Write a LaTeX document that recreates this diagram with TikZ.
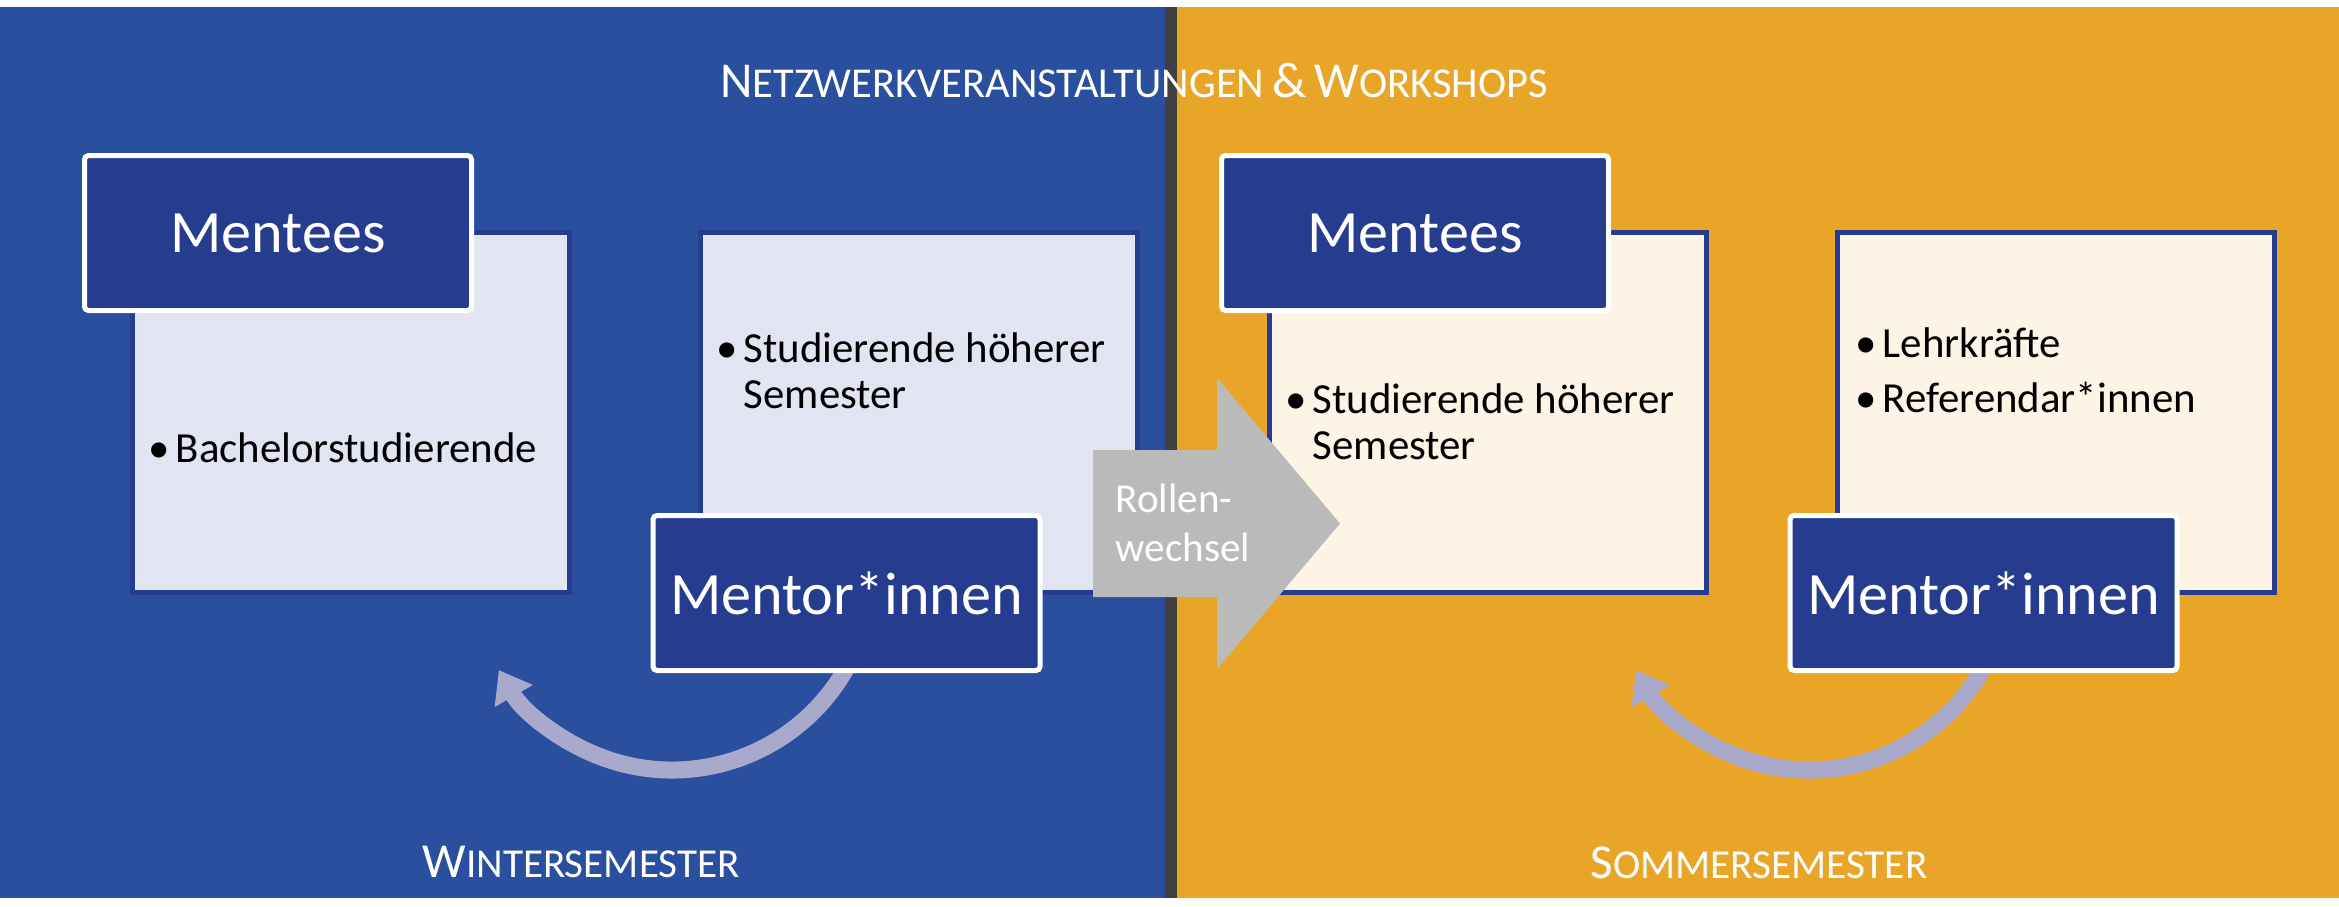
\documentclass[tikz,border=0pt]{standalone}
\usepackage{fontspec}
\setmainfont{Carlito}
\usetikzlibrary{calc, arrows.meta}

% small caps as the slide sets them: big first letter, smaller capitals after it
\newcommand{\titlecaps}[2]{{\fontsize{14.3}{14.3}\selectfont #1}{\fontsize{12.1}{12.1}\selectfont #2}}
\newcommand{\semcaps}[2]{{\fontsize{13.9}{13.9}\selectfont #1}{\fontsize{11.7}{11.7}\selectfont #2}}
\newcommand{\entry}{\llap{\textbullet\hspace{1.6pt}}}

\begin{document}
\begin{tikzpicture}[
    headbox/.style={draw=white, line width=0.05cm, fill=headBlue, rounded corners=0.04cm,
        minimum width=3.87cm, minimum height=1.55cm, inner sep=0pt, text=white,
        font=\fontsize{17.1}{20}\selectfont},
    infobox/.style={draw=headBlue, line width=0.05cm, minimum width=4.37cm, minimum height=3.60cm},
    listtext/.style={anchor=base west, inner sep=0pt, text=black, font=\fontsize{12.2}{13.1}\selectfont},
    swaptext/.style={anchor=base west, inner sep=0pt, text=white, font=\fontsize{11.7}{14.2}\selectfont},
    semlabel/.style={anchor=base west, inner sep=0pt, text=white},
    cyclearrow/.style={draw=loopLilac, line width=0.17cm, -{Triangle[length=0.30cm, width=0.42cm]}}
]
    % Define colours
    \definecolor{winterBlue}{HTML}{2A4F9E}
    \definecolor{summerOrange}{HTML}{E9A528}
    \definecolor{dividerGrey}{HTML}{404040}
    \definecolor{headBlue}{HTML}{253C8F}
    \definecolor{winterFill}{HTML}{E2E4F2}
    \definecolor{summerFill}{HTML}{FDF4E6}
    \definecolor{swapGrey}{HTML}{BBBABB}
    \definecolor{loopLilac}{HTML}{A9AACB}

    % Draw background of both semesters
    \useasboundingbox (0,0) rectangle (23.39,-9.06);
    \fill[white] (0,0) rectangle (23.39,-9.06);
    \fill[winterBlue] (0,-0.07) rectangle (11.65,-8.98);
    \fill[summerOrange] (11.77,-0.07) rectangle (23.39,-8.98);
    \fill[dividerGrey] (11.65,-0.07) rectangle (11.77,-8.98);

    % Draw the boxes with the groups
    \node[infobox, fill=winterFill] (groupW1) at (3.51,-4.125) {};
    \node[infobox, fill=winterFill] (groupW2) at (9.19,-4.125) {};
    \node[infobox, fill=summerFill] (groupS1) at (14.88,-4.125) {};
    \node[infobox, fill=summerFill] (groupS2) at (20.56,-4.125) {};

    % Draw the arrow between the semesters
    \fill[swapGrey] (10.93,-4.50) -- (12.17,-4.50) -- (12.17,-3.78) -- (13.40,-5.235)
        -- (12.17,-6.69) -- (12.17,-5.97) -- (10.93,-5.97) -- cycle;
    \node[swaptext] (swapLabel) at (11.15,-5.12)
        {\begin{tabular}[t]{@{}l@{}}Rollen-\\wechsel\end{tabular}};

    % Draw the curved arrows under the mentor boxes
    \coordinate (cycleW) at (6.72,-5.70);
    \coordinate (cycleS) at (18.09,-5.70);
    \draw[cyclearrow] ($(cycleW)+(-20:2)$) arc[start angle=-20, end angle=-150, radius=2];
    \draw[cyclearrow] ($(cycleS)+(-20:2)$) arc[start angle=-20, end angle=-150, radius=2];

    % Draw the role boxes
    \node[headbox] (menteesW) at (2.78,-2.33) {Mentees};
    \node[headbox] (mentorsW) at (8.465,-5.93) {Mentor*innen};
    \node[headbox] (menteesS) at (14.15,-2.33) {Mentees};
    \node[headbox] (mentorsS) at (19.835,-5.93) {Mentor*innen};

    % Label the groups
    \node[listtext] (listW1) at (1.75,-4.62)
        {\begin{tabular}[t]{@{}l@{}}\entry Bachelorstudierende\end{tabular}};
    \node[listtext] (listW2) at (7.43,-3.62)
        {\begin{tabular}[t]{@{}l@{}}\entry Studierende höherer\\Semester\end{tabular}};
    \node[listtext] (listS1) at (13.12,-4.13)
        {\begin{tabular}[t]{@{}l@{}}\entry Studierende höherer\\Semester\end{tabular}};
    \node[listtext] (listS2) at (18.82,-3.57)
        {\begin{tabular}[t]{@{}l@{}}\entry Lehrkräfte\\[2.8pt]\entry Referendar*innen\end{tabular}};

    % Label the semesters
    \node[semlabel, anchor=base] (eventsLabel) at (11.34,-0.97)
        {\titlecaps{N}{ETZWERKVERANSTALTUNGEN} \titlecaps{\&}{} \titlecaps{W}{ORKSHOPS}};
    \node[semlabel] (winterLabel) at (4.22,-8.77) {\semcaps{W}{INTERSEMESTER}};
    \node[semlabel] (summerLabel) at (15.90,-8.78) {\semcaps{S}{OMMERSEMESTER}};

\end{tikzpicture}
\end{document}
